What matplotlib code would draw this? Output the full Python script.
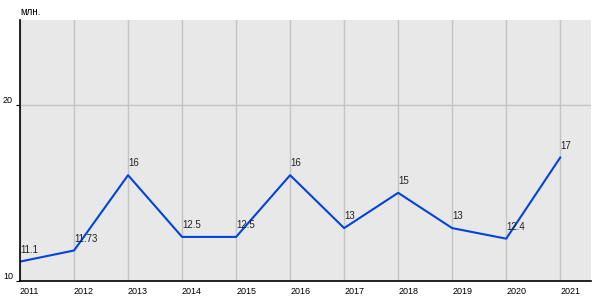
import matplotlib
matplotlib.use('Agg')
import matplotlib.pyplot as plt

years = [2011, 2012, 2013, 2014, 2015, 2016, 2017, 2018, 2019, 2020, 2021]
values = [11.1, 11.73, 16, 12.5, 12.5, 16, 13, 15, 13, 12.4, 17]
labels = ['11.1', '11.73', '16', '12.5', '12.5', '16', '13', '15', '13', '12.4', '17']

plt.rcParams['font.family'] = ['Liberation Sans', 'DejaVu Sans']

fig = plt.figure(figsize=(6, 3), dpi=100)
ax = fig.add_axes([20 / 600, 19 / 300, 571 / 600, 261 / 300])
ax.set_facecolor('#e8e8e8')

ax.plot(years, values, color='#0044dd', linewidth=1.5)
for x, y, t in zip(years, values, labels):
    ax.annotate(t, (x, y), xytext=(0, 5), textcoords='offset points',
                fontsize=7, color='#222222', ha='left', va='bottom')

ax.set_xlim(2011, 2021.57)
ax.set_ylim(10, 24.8)
ax.set_xticks(years)
ax.set_yticks([10, 20])
ax.grid(True, color='#c4c4c4', linewidth=1)
ax.set_axisbelow(True)

for s in ['top', 'right']:
    ax.spines[s].set_visible(False)
for s in ['left', 'bottom']:
    ax.spines[s].set_color('black')
    ax.spines[s].set_linewidth(1.2)

ax.tick_params(axis='x', length=0, labelsize=6.5, pad=4)
ax.tick_params(axis='y', length=3, labelsize=6.5, pad=2)
for lbl in ax.get_xticklabels():
    lbl.set_horizontalalignment('left')
for lbl in ax.get_yticklabels():
    lbl.set_verticalalignment('bottom')

fig.text(20 / 600, 1 - 12 / 300, 'млн.', fontsize=7, ha='left', va='center')

fig.savefig('out.png', dpi=100)
